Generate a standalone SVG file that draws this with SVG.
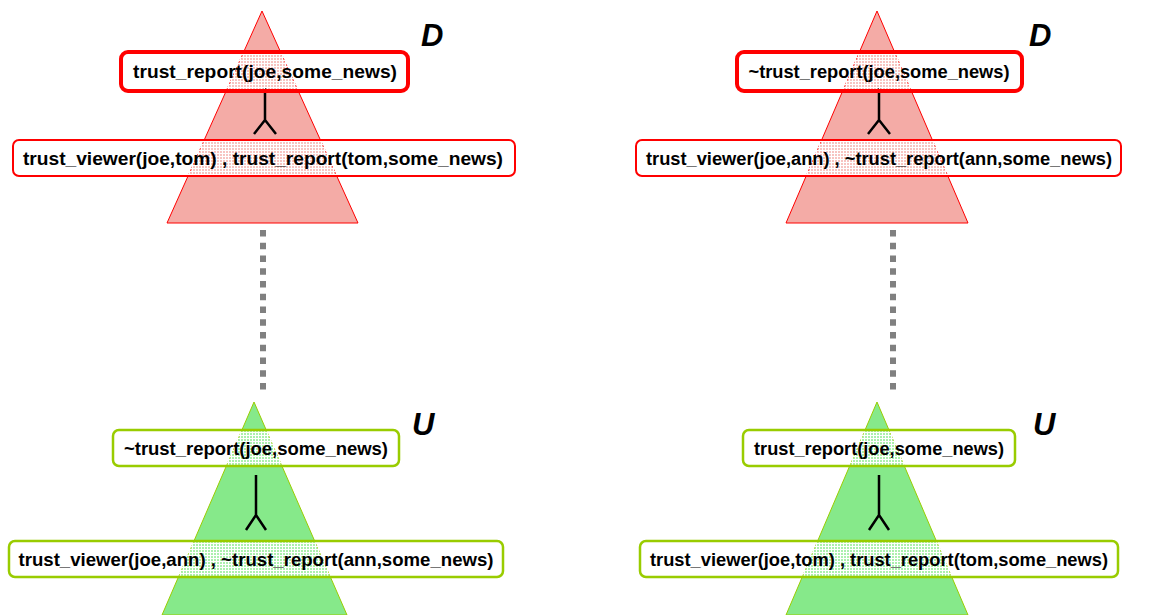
<svg xmlns="http://www.w3.org/2000/svg" width="1149" height="615" viewBox="0 0 1149 615">
<defs>
<pattern id="grid" width="3" height="3" patternUnits="userSpaceOnUse">
<rect width="3" height="3" fill="#ffffff" fill-opacity="0.3"/>
<path d="M0 0.5H3M0.5 0V3" stroke="#ffffff" stroke-width="1"/>
</pattern>
</defs>
<style>
.tri-d{fill:#f4aba6;stroke:#ff0000;stroke-width:1}
.tri-u{fill:#86e98a;stroke:#99cc00;stroke-width:1}
.box-dt{fill:url(#grid);stroke:#ff0000;stroke-width:4}
.box-d{fill:url(#grid);stroke:#ff0000;stroke-width:2}
.box-u{fill:url(#grid);stroke:#99cc00;stroke-width:2.5}
.t{font-family:"Liberation Sans",Arial,sans-serif;font-weight:bold;font-size:19px;fill:#000;text-anchor:middle}
.lbl{font-family:"Liberation Sans",Arial,sans-serif;font-weight:bold;font-style:italic;font-size:31px;fill:#000}
.conn{fill:none;stroke:#000;stroke-width:2.5}
.dots{fill:none;stroke:#808080;stroke-width:6;stroke-dasharray:6.5 6.25}
</style>
<g id="tri-left-d"><polygon class="tri-d" points="262,11 358,223 167,223"/></g>
<g id="tri-right-d"><polygon class="tri-d" points="877,11 968,223 786,223"/></g>
<g id="tri-left-u"><polygon class="tri-u" points="254,402 347,615 162,615"/></g>
<g id="tri-right-u"><polygon class="tri-u" points="877,402 968,615 786,615"/></g>

<g id="connectors">
<line class="dots" x1="263" y1="230" x2="263" y2="390"/>
<line class="dots" x1="893" y1="230" x2="893" y2="390"/>
<path class="conn" d="M265 88V120M254 134L265 120L276 134"/>
<path class="conn" d="M879 88V120M868 134L879 120L890 134"/>
<path class="conn" d="M256 475V515M246 530L256 515L266 530"/>
<path class="conn" d="M879 475V515M869 530L879 515L889 530"/>
</g>

<g id="label-d-left"><text class="lbl" x="421" y="46">D</text></g>
<g id="label-d-right"><text class="lbl" x="1029" y="46">D</text></g>
<g id="label-u-left"><text class="lbl" x="412" y="435">U</text></g>
<g id="label-u-right"><text class="lbl" x="1033" y="435">U</text></g>

<g id="node-d-left-top"><rect class="box-dt" x="121" y="52" width="287" height="39" rx="7"/><text class="t" x="265" y="78" style="font-size:19.2px" textLength="264">trust_report(joe,some_news)</text></g>
<g id="node-d-left-bottom"><rect class="box-d" x="13" y="140" width="502" height="36" rx="6"/><text class="t" x="263" y="165" style="font-size:19.2px" textLength="480">trust_viewer(joe,tom) , trust_report(tom,some_news)</text></g>
<g id="node-d-right-top"><rect class="box-dt" x="737" y="52" width="285" height="39" rx="7"/><text class="t" x="879" y="78" style="font-size:18.3px" textLength="261">~trust_report(joe,some_news)</text></g>
<g id="node-d-right-bottom"><rect class="box-d" x="636" y="140" width="485" height="36" rx="6"/><text class="t" x="879" y="165" style="font-size:18.3px" textLength="466">trust_viewer(joe,ann) , ~trust_report(ann,some_news)</text></g>
<g id="node-u-left-top"><rect class="box-u" x="113" y="430" width="286" height="36" rx="6"/><text class="t" x="256" y="455" style="font-size:18.5px" textLength="264">~trust_report(joe,some_news)</text></g>
<g id="node-u-left-bottom"><rect class="box-u" x="9" y="541" width="494" height="36" rx="6"/><text class="t" x="256" y="566" style="font-size:18.6px" textLength="475">trust_viewer(joe,ann) , ~trust_report(ann,some_news)</text></g>
<g id="node-u-right-top"><rect class="box-u" x="743" y="430" width="272" height="36" rx="6"/><text class="t" x="879" y="455" style="font-size:18.2px" textLength="250">trust_report(joe,some_news)</text></g>
<g id="node-u-right-bottom"><rect class="box-u" x="640" y="541" width="478" height="36" rx="6"/><text class="t" x="879" y="566" style="font-size:18.3px" textLength="458">trust_viewer(joe,tom) , trust_report(tom,some_news)</text></g>
</svg>
